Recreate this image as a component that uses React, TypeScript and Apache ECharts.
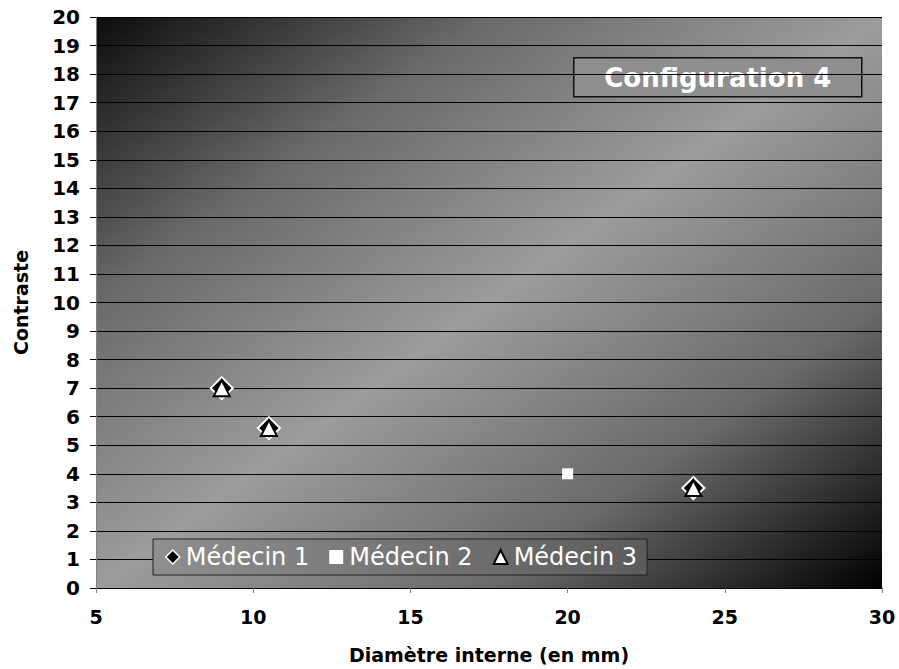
import React, { useEffect, useRef } from "react";
import * as echarts from "echarts";

const seriesNames = ["Médecin 1", "Médecin 2", "Médecin 3"];
const medecin1X = [9, 10.5, 24];
const medecin1Y = [7, 5.6, 3.5];
const medecin2X = [20];
const medecin2Y = [4];
const medecin3X = [9, 10.5, 24];
const medecin3Y = [7, 5.6, 3.5];
const xTitle = "Diamètre interne (en mm)";
const yTitle = "Contraste";
const boxTitle = "Configuration 4";

const FONT = "DejaVu Sans";

function pairs(xs: number[], ys: number[]) {
  return xs.map((x, i) => [x, ys[i]]);
}

export default function App() {
  const ref = useRef<HTMLDivElement>(null);
  useEffect(() => {
    if (!ref.current) return;
    const chart = echarts.init(ref.current, null, { renderer: "svg" });
    const bg = new echarts.graphic.LinearGradient(0, 0, 1, 1, [
      { offset: 0, color: "#0c0c0c" },
      { offset: 0.25, color: "#6a6a6a" },
      { offset: 0.5, color: "#9c9c9c" },
      { offset: 0.75, color: "#6a6a6a" },
      { offset: 1, color: "#000000" },
    ]);
    const legendBg = new echarts.graphic.LinearGradient(0, 0, 1, 0, [
      { offset: 0, color: "#8f8f8f" },
      { offset: 1, color: "#5c5c5c" },
    ]);
    chart.setOption({
      animation: false,
      backgroundColor: "#ffffff",
      grid: {
        left: 96,
        right: 17,
        top: 17,
        bottom: 79,
        show: true,
        backgroundColor: bg,
        borderWidth: 0,
      },
      xAxis: {
        type: "value",
        min: 5,
        max: 30,
        interval: 5,
        name: xTitle,
        nameLocation: "middle",
        nameGap: 57,
        nameTextStyle: { fontFamily: FONT, fontWeight: "bold", fontSize: 19, color: "#000" },
        axisLine: { show: true, onZero: false, lineStyle: { color: "#000", width: 1 } },
        axisTick: { show: true, length: 5, lineStyle: { color: "#808080" } },
        axisLabel: { margin: 19, fontFamily: FONT, fontWeight: "bold", fontSize: 19, color: "#000" },
        splitLine: { show: false },
      },
      yAxis: {
        type: "value",
        min: 0,
        max: 20,
        interval: 1,
        name: yTitle,
        nameLocation: "middle",
        nameGap: 66,
        nameRotate: 90,
        nameTextStyle: { fontFamily: FONT, fontWeight: "bold", fontSize: 19, color: "#000" },
        axisLine: { show: true, lineStyle: { color: "#808080", width: 1 } },
        axisTick: { show: true, length: 6, lineStyle: { color: "#000" } },
        axisLabel: { margin: 16, fontFamily: FONT, fontWeight: "bold", fontSize: 20, color: "#000" },
        splitLine: { show: true, lineStyle: { color: "#000", width: 1 } },
      },
      legend: {
        left: 153,
        top: 539,
        orient: "horizontal",
        padding: [6, 10, 6, 12],
        itemGap: 20,
        itemWidth: 14,
        itemHeight: 14,
        backgroundColor: legendBg,
        borderColor: "#222",
        borderWidth: 1,
        textStyle: { fontFamily: FONT, fontSize: 24, color: "#fff", padding: [0, 0, 0, 1] },
        data: [
          { name: seriesNames[0], icon: "diamond", itemStyle: { color: "#000", borderColor: "#fff", borderWidth: 1.5, opacity: 1 } },
          { name: seriesNames[1], icon: "rect", itemStyle: { color: "#fff", borderWidth: 0, opacity: 1 } },
          { name: seriesNames[2], icon: "triangle", itemStyle: { color: "#fff", borderColor: "#000", borderWidth: 2, opacity: 1 } },
        ],
      },
      graphic: [
        {
          type: "group",
          left: 573,
          top: 57,
          children: [
            {
              type: "rect",
              shape: { x: 0, y: 0, width: 288, height: 39 },
              style: { fill: "#8f8f8f", stroke: "#111", lineWidth: 1.5 },
            },
            {
              type: "text",
              x: 144,
              y: 20,
              style: {
                text: boxTitle,
                fill: "#fff",
                font: `bold 26px "${FONT}"`,
                align: "center",
                verticalAlign: "middle",
              },
            },
          ],
        },
      ],
      series: [
        {
          name: seriesNames[0],
          type: "scatter",
          symbol: "diamond",
          symbolSize: 22,
          itemStyle: { color: "#000", borderColor: "#fff", borderWidth: 2, opacity: 1 },
          data: pairs(medecin1X, medecin1Y),
          z: 2,
        },
        {
          name: seriesNames[1],
          type: "scatter",
          symbol: "rect",
          symbolSize: 11,
          itemStyle: { color: "#fff", borderWidth: 0, opacity: 1 },
          data: pairs(medecin2X, medecin2Y),
          z: 3,
        },
        {
          name: seriesNames[2],
          type: "scatter",
          symbol: "triangle",
          symbolSize: 16,
          itemStyle: { color: "#fff", borderColor: "#000", borderWidth: 2, opacity: 1 },
          data: pairs(medecin3X, medecin3Y),
          z: 4,
        },
      ],
    });
    return () => chart.dispose();
  }, []);
  return (
    <div
      ref={ref}
      style={{ position: "absolute", left: 0, top: 0, width: 899, height: 669 }}
    />
  );
}
